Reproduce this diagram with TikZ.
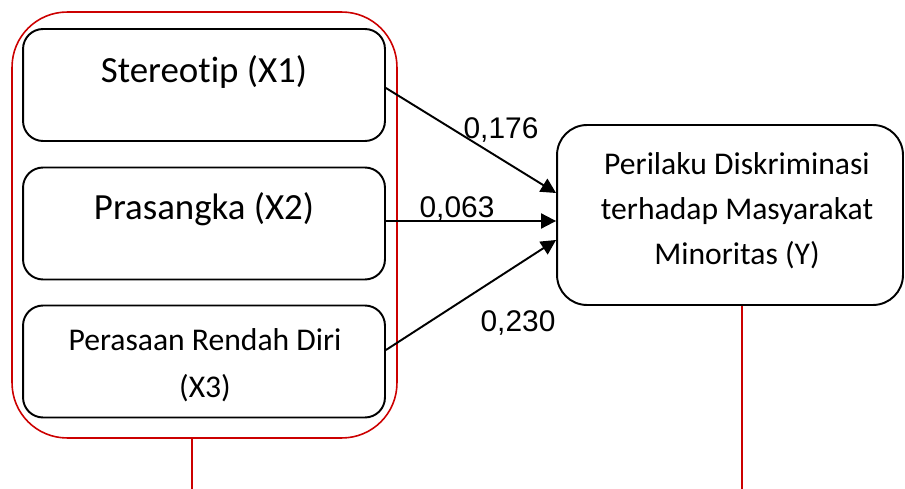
\documentclass[tikz,border=0pt]{standalone}
\usepackage{fontspec}
\setmainfont{Carlito}[Ligatures=NoCommon]
\newfontfamily\coeffont{Liberation Sans}
\usetikzlibrary{arrows.meta,positioning}

\begin{document}
\begin{tikzpicture}[x=0.02cm,y=-0.02cm,
    groupbox/.style={draw=red!80!black, line width=0.9pt, rounded corners=1.1cm,
        minimum width=7.7cm, minimum height=8.52cm, inner sep=0pt},
    varbox/.style={draw, line width=1.1pt, rounded corners=0.4cm,
        minimum width=7.24cm, minimum height=2.24cm, inner sep=0pt},
    ybox/.style={draw, line width=1.1pt, rounded corners=0.6cm,
        minimum width=6.92cm, minimum height=3.6cm, inner sep=0pt},
    vartext/.style={font=\fontsize{21}{25}\selectfont, inner sep=0pt},
    smalltext/.style={font=\fontsize{18}{26.6}\selectfont, align=center, inner sep=0pt},
    ytext/.style={font=\fontsize{18}{25.5}\selectfont, align=center, inner sep=0pt},
    coef/.style={font=\coeffont\fontsize{17}{20}\selectfont, inner sep=0pt},
    path/.style={-{Triangle[length=0.3cm,width=0.3cm]}, line width=1.1pt}
    ]

    \useasboundingbox (0,0) rectangle (905,489);

    % group of independent variables
    \node (grp) [groupbox] at (204.5,225) {};

    \node (x1) [varbox] at (204,85) {};
    \node (x2) [varbox] at (204,223.5) {};
    \node (x3) [varbox] at (204,361.5) {};

    \node (x1text) [vartext] at (204,72) {Stereotip (X1)};
    \node (x2text) [vartext] at (204,209) {Prasangka (X2)};
    \node (x3text) [smalltext] at (205,365) {Perasaan Rendah Diri\\(X3)};

    % dependent variable
    \node (y) [ybox] at (730,215) {};
    \node (ytext) [ytext] at (737,211) {Perilaku Diskriminasi\\terhadap Masyarakat\\Minoritas (Y)};

    % paths
    \draw [path] ([yshift=-0.06cm]x1.east) -- ([yshift=0.44cm]y.west);
    \draw [path] ([yshift=0.05cm]x2.east) -- ([yshift=-0.12cm]y.west);
    \draw [path] ([yshift=0.23cm]x3.east) -- ([yshift=-0.5cm]y.west);

    \node (c1) [coef] at (501,130) {0,176};
    \node (c2) [coef] at (457,209) {0,063};
    \node (c3) [coef] at (518,323) {0,230};

    % red leads
    \coordinate (grpend) at (192,489);
    \coordinate (yend) at (742,489);
    \draw [red!80!black, line width=0.9pt] (grp.south -| grpend) -- (grpend);
    \draw [red!80!black, line width=0.9pt] (y.south -| yend) -- (yend);

\end{tikzpicture}
\end{document}
